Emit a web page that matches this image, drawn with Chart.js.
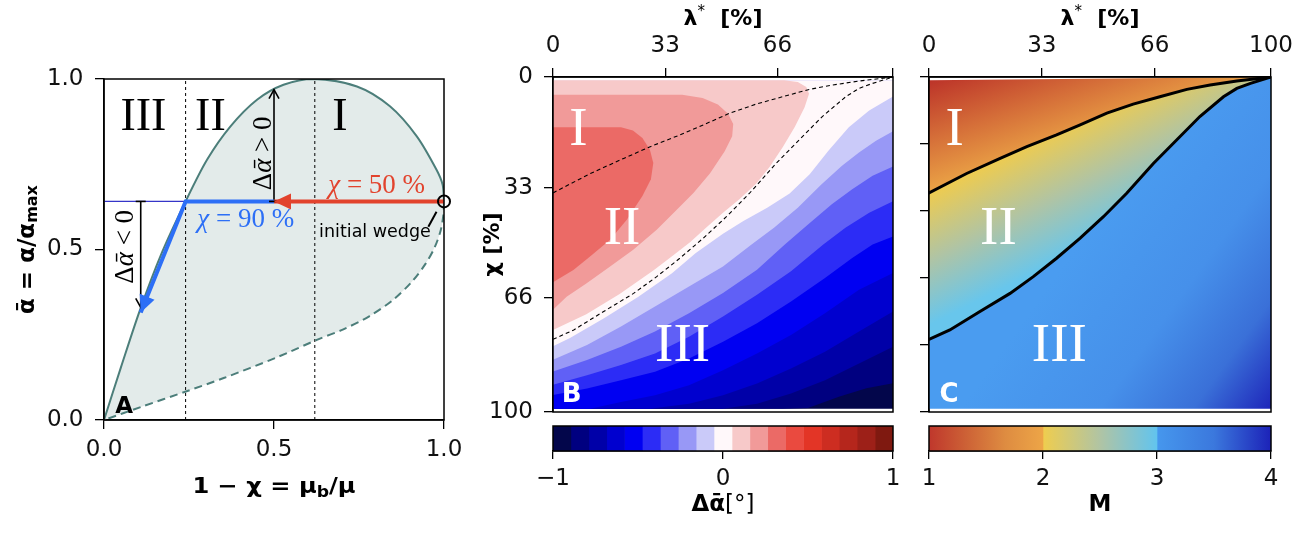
<!DOCTYPE html>
<html>
<head>
<meta charset="utf-8">
<title>Wedge regimes</title>
<script src="https://cdn.jsdelivr.net/npm/chart.js@4.4.1/dist/chart.umd.min.js"></script>
<style>
  html, body { margin: 0; padding: 0; background: #fff; }
  #fig { position: relative; width: 1314px; height: 533px; overflow: hidden; }
  #fig canvas { position: absolute; }
</style>
</head>
<body>
<div id="fig">
  <canvas id="panelA" width="475" height="533" style="left:0;top:0"></canvas>
  <canvas id="panelB" width="450" height="420" style="left:460px;top:0"></canvas>
  <canvas id="barB" width="450" height="113" style="left:460px;top:420px"></canvas>
  <canvas id="panelC" width="404" height="420" style="left:910px;top:0"></canvas>
  <canvas id="barC" width="404" height="113" style="left:910px;top:420px"></canvas>
</div>
<script>
// ── Panel A: wedge envelope, x = 1 − χ, y = ᾱ ─────────────────────────────────
const upperBranch = [[0, 0], [0.05, 0.155], [0.106, 0.323], [0.17, 0.49], [0.24, 0.641], [0.303, 0.763],
  [0.372, 0.861], [0.45, 0.939], [0.528, 0.983], [0.616, 1.0], [0.744, 0.978], [0.841, 0.92],
  [0.92, 0.832], [0.978, 0.734], [0.996, 0.69], [1.0, 0.641]]
const lowerBranch = [[1.0, 0.641], [0.998, 0.6], [0.99, 0.555], [0.972, 0.505], [0.945, 0.457],
  [0.905, 0.405], [0.85, 0.352], [0.78, 0.304], [0.704, 0.266], [0.626, 0.235], [0.509, 0.184],
  [0.352, 0.123], [0.245, 0.085], [0.108, 0.038], [0, 0]]
const regimeSplits = [0.24, 0.62]
const wedgeStart = [1.0, 0.641]
const guideLine = [[0, 0.641], [0.24, 0.641]]
const redPath = [[1.0, 0.641], [0.5, 0.641]]
const bluePath = [[0.5, 0.641], [0.24, 0.641], [0.108, 0.315]]
const riseArrow = [[0.5, 0.641], [0.5, 0.969]]
const dropArrow = [[0.108, 0.641], [0.108, 0.33]]
const wedgeLeader = [[0.978, 0.611], [0.954, 0.567]]
const ticksA = [0, 0.5, 1]

// ── Panel B: Δᾱ contour bands over (λ*, χ), both in % ─────────────────────────
const deltaLevels = [-1, -0.895, -0.789, -0.684, -0.579, -0.474, -0.368, -0.263, -0.158, -0.053,
  0.053, 0.158, 0.263, 0.368, 0.474, 0.579, 0.684, 0.789, 0.895, 1]
const deltaColors = ['#03064b', '#000080', '#0000a8', '#0000cf', '#0000f2', '#2c2cf6', '#6060f6',
  '#9898f6', '#cacaf9', '#fff8fa', '#f7c9c9', '#f19a99', '#eb6a66', '#ea4a3f', '#e33526',
  '#cd2d21', '#b5261c', '#9d2018', '#7f1910']
const dataExtent = [[0, 1], [100, 1], [100, 99], [0, 99]]
// iso-lines, left/bottom edge -> right edge
const cNeg895 = [[67.7, 99], [75, 98.8], [84.3, 95.4], [92.2, 92.9], [100, 91.4]]
const cNeg789 = [[50, 99], [60, 97.5], [70, 94.5], [80, 90.5], [90, 85.5], [100, 80.5]]
const cNeg684 = [[28.5, 99], [40, 97.5], [50, 95], [60, 91.5], [70, 87], [80, 82], [90, 76], [100, 70]]
const cNeg579 = [[10.9, 99], [20, 97], [30, 95], [40, 92], [50, 87.5], [60, 82.5], [70, 77], [80, 70.5], [90, 63.5], [100, 58.5]]
const cNeg474 = [[0, 94.9], [10, 93], [20, 90.5], [30, 88], [40, 84], [50, 79], [60, 73.5], [70, 67], [80, 60], [88, 54], [94, 50], [100, 47.6]]
const cNeg368 = [[0, 91.9], [10, 89], [20, 86], [30, 82.5], [40, 77.5], [50, 71.5], [60, 65], [70, 58], [79.4, 50.1], [86, 45], [93, 40.5], [100, 37.1]]
const cNeg263 = [[0, 87.9], [10, 84.5], [20, 80.5], [30, 76], [40, 70.5], [50, 64.5], [60, 57.5], [68.1, 50.1], [75, 44], [82, 38], [88, 33.5], [94, 29.5], [100, 26.7]]
const cNeg158 = [[0, 84.4], [10, 80], [20, 74.5], [30, 68.5], [40, 62.5], [50, 56.6], [58.3, 50.1], [65, 45], [72, 39], [79, 32], [85, 26.5], [90, 22.5], [95, 19], [100, 16.2]]
const cNeg053 = [[0, 80.4], [5, 77.9], [15, 72], [25, 65.7], [35, 58.6], [42, 52.5], [50, 46.8], [56, 43], [63, 39], [69.6, 34.8], [75.5, 29], [81, 22], [87, 15], [93, 10], [100, 5.8]]
// closed iso-lines around the positive lobe
const cPos053 = [[0, 1], [68, 1], [72, 1.5], [74.5, 3], [75.3, 5], [74, 9], [71.1, 14.9], [67.6, 20.9], [63.7, 26.9], [59.8, 31.8], [54.9, 36.4], [50, 40.5], [45, 45], [40.3, 49.3], [35, 53.5], [29.4, 57.8], [19.6, 64.8], [9.8, 70.8], [0, 75.5]]
const cPos158 = [[0, 5.3], [38, 5.3], [44, 6.3], [48.5, 8.2], [51.5, 11], [53, 14], [52.7, 17.7], [50.5, 22.2], [46.2, 28.7], [41.3, 34.6], [36.4, 39.6], [30.5, 45.6], [23.6, 51.6], [16.8, 56.6], [9.9, 61.6], [4, 65.6], [0, 69.5]]
const cPos263 = [[0, 15], [20, 15], [23.5, 16], [26.3, 18.2], [28.5, 21.7], [29.5, 25.7], [28.8, 30.5], [26.3, 35.5], [21.7, 42.6], [16.8, 48.6], [10.9, 53.6], [6, 57.6], [0, 61.3]]

// regime boundaries (dashed in B, solid in C)
const curveI_II = [[0, 34.6], [11, 28.8], [20.8, 24.3], [28.6, 20.8], [37.3, 17.3], [44.2, 14.3], [52, 10.8],
  [59.7, 8.1], [67.5, 5.9], [75.4, 3.7], [82.2, 2.4], [90, 1.2], [100, 0]]
const curveII_III = [[0, 78.3], [6.1, 75.5], [14.9, 70], [23.7, 64.6], [30.5, 59.6], [37.3, 54.1], [44.2, 48.1],
  [51, 41.7], [57.8, 34.7], [65.6, 25.8], [72.4, 18.8], [79.2, 11.8], [86.1, 5.9], [90, 3.4], [94, 1.9], [100, 0]]

const lambdaTicks = [0, 33, 66, 100]
const chiTicksB = [0, 33, 66, 100]
const chiTicksC = [0, 20, 40, 60, 80, 100]
const deltaTicks = [-1, 0, 1]

// ── Panel C: number of modes M ───────────────────────────────────────────────
const mTicks = [1, 2, 3, 4]
const mSegments = [[1, 2], [2, 3], [3, 4]]
const mRamps = [
  [[0, '#bf372c'], [0.33, '#cd6236'], [0.67, '#de8c41'], [1, '#eda547']],
  [[0, '#efcd4e'], [0.5, '#b0c4a4'], [1, '#62c4ee']],
  [[0, '#4697ed'], [0.5, '#3b78dd'], [1, '#1c22b8']]
]

// ── Helpers ──────────────────────────────────────────────────────────────────

Chart.defaults.font.family = '"DejaVu Sans", sans-serif'
Chart.defaults.color = '#111'
Chart.defaults.elements.point.radius = 0
Chart.defaults.elements.point.hitRadius = 0

const serif = sz => `${sz}px "Liberation Serif", "DejaVu Serif", serif`
const serifIt = sz => `italic ${sz}px "Liberation Serif", "DejaVu Serif", serif`
const sans = (sz, bold) => `${bold ? 'bold ' : ''}${sz}px "DejaVu Sans", sans-serif`

const P = arr => arr.map(([x, y]) => ({ x, y }))

function line(data, o = {}) {
  return Object.assign({ data: P(data), showLine: true, fill: false, borderWidth: 0,
    borderColor: 'transparent', pointRadius: 0, tension: 0 }, o)
}

function area(data, color) {
  return line(data, { fill: 'shape', backgroundColor: color })
}

// first listed = drawn first (bottom)
function stackOrder(datasets) {
  datasets.forEach((d, i) => { d.order = datasets.length - i })
  return datasets
}

function axisOpts({ min, max, ticks, label = v => String(v), size, pad, position, reverse = false, tickLen = 9 }) {
  return {
    type: 'linear', min, max, reverse, position,
    afterBuildTicks: s => { s.ticks = ticks.map(v => ({ value: v })) },
    afterFit: s => {
      if (s.isHorizontal()) s.height = size
      else s.width = size
      s.paddingLeft = s.paddingRight = s.paddingTop = s.paddingBottom = 0
    },
    ticks: { padding: pad, color: '#111', font: { size: 23 }, maxRotation: 0, autoSkip: false, callback: v => label(v) },
    grid: { drawOnChartArea: false, drawTicks: true, tickLength: tickLen, color: '#000', lineWidth: 1.3 },
    border: { display: true, color: '#000', width: 1.5 }
  }
}

function drawRich(ctx, x, y, item) {
  const { parts, align = 'center', rotate = 0, color = '#000', sx = 1, dy = 0 } = item
  ctx.save()
  ctx.translate(x, y)
  if (rotate) ctx.rotate(rotate * Math.PI / 180)
  ctx.scale(sx, 1)
  ctx.textBaseline = 'alphabetic'
  ctx.textAlign = 'left'
  const widths = parts.map(p => { ctx.font = p.f; return ctx.measureText(p.t).width })
  const total = widths.reduce((a, b) => a + b, 0)
  let cx = align === 'left' ? 0 : align === 'right' ? -total : -total / 2
  parts.forEach((p, i) => {
    ctx.font = p.f
    ctx.fillStyle = p.c || color
    ctx.fillText(p.t, cx, dy + (p.dy || 0))
    cx += widths[i]
  })
  ctx.restore()
}

const framePlugin = {
  id: 'frame',
  afterDatasetsDraw(chart) {
    const { ctx, chartArea: a } = chart
    ctx.save()
    ctx.strokeStyle = '#000'
    ctx.lineWidth = 1.5
    ctx.strokeRect(a.left, a.top, a.right - a.left, a.bottom - a.top)
    ctx.restore()
  }
}

function labelPlugin(id, items, titles) {
  return {
    id,
    afterDraw(chart) {
      const { ctx, scales } = chart
      for (const it of items) {
        drawRich(ctx, scales.x.getPixelForValue(it.at[0]), scales.y.getPixelForValue(it.at[1]), it)
      }
      if (titles) titles(chart)
    }
  }
}

function linGrad(chart, from, to, stops) {
  const { x, y } = chart.scales
  const g = chart.ctx.createLinearGradient(x.getPixelForValue(from[0]), y.getPixelForValue(from[1]),
    x.getPixelForValue(to[0]), y.getPixelForValue(to[1]))
  stops.forEach(([o, c]) => g.addColorStop(o, c))
  return g
}

const baseOptions = {
  responsive: false, animation: false, events: [],
  plugins: { legend: { display: false }, tooltip: { enabled: false } }
}

// ── Panel A ──────────────────────────────────────────────────────────────────

const teal = '#4c7e7a'
const red = '#e2432d'
const blue = '#2d6ff6'

const arrowHeads = [
  { path: dropArrow, color: '#000', len: 9, half: 5, filled: false, bar: true },
  { path: riseArrow, color: '#000', len: 9, half: 5, filled: false, bar: true },
  { path: redPath, color: red, len: 17, half: 8, filled: true },
  { path: bluePath, color: blue, len: 17, half: 8, filled: true }
]

const headsPlugin = {
  id: 'heads',
  afterDatasetsDraw(chart) {
    const { ctx, scales: { x, y } } = chart
    for (const h of arrowHeads) {
      const n = h.path.length
      const [ax, ay] = h.path[n - 2]
      const [bx, by] = h.path[n - 1]
      const x0 = x.getPixelForValue(ax), y0 = y.getPixelForValue(ay)
      const x1 = x.getPixelForValue(bx), y1 = y.getPixelForValue(by)
      const ang = Math.atan2(y1 - y0, x1 - x0)
      ctx.save()
      ctx.strokeStyle = h.color
      ctx.fillStyle = h.color
      ctx.lineWidth = 1.6
      if (h.bar) {
        const [sx, sy] = h.path[0]
        ctx.save()
        ctx.translate(x.getPixelForValue(sx), y.getPixelForValue(sy))
        ctx.rotate(ang)
        ctx.beginPath(); ctx.moveTo(0, -5); ctx.lineTo(0, 5); ctx.stroke()
        ctx.restore()
      }
      ctx.translate(x1, y1)
      ctx.rotate(ang)
      ctx.beginPath()
      ctx.moveTo(-h.len, -h.half)
      ctx.lineTo(0, 0)
      ctx.lineTo(-h.len, h.half)
      if (h.filled) { ctx.closePath(); ctx.fill() } else ctx.stroke()
      ctx.restore()
    }
  }
}

const textsA = [
  { at: [0.116, 0.894], dy: 15, parts: [{ t: 'III', f: serif(46) }] },
  { at: [0.313, 0.894], dy: 15, parts: [{ t: 'II', f: serif(46) }] },
  { at: [0.694, 0.894], dy: 15, parts: [{ t: 'I', f: serif(46) }] },
  { at: [0.491, 0.782], rotate: -90, parts: [{ t: 'Δ', f: serif(27) }, { t: 'ᾱ', f: serifIt(27) }, { t: ' > 0', f: serif(27) }] },
  { at: [0.085, 0.508], rotate: -90, parts: [{ t: 'Δ', f: serif(27) }, { t: 'ᾱ', f: serifIt(27) }, { t: ' < 0', f: serif(27) }] },
  { at: [0.802, 0.665], color: red, parts: [{ t: 'χ', f: serifIt(27) }, { t: ' = 50 %', f: serif(27) }] },
  { at: [0.417, 0.567], color: blue, parts: [{ t: 'χ', f: serifIt(27) }, { t: ' = 90 %', f: serif(27) }] },
  { at: [0.797, 0.537], parts: [{ t: 'initial wedge', f: sans(17.5) }] },
  { at: [0.059, 0.044], dy: 8.5, parts: [{ t: 'A', f: sans(23, true) }] }
]

function titlesA(chart) {
  const { ctx, chartArea: a } = chart
  drawRich(ctx, (a.left + a.right) / 2, a.bottom + 73, { sx: 1.15, parts: [
    { t: '1 − χ = μ', f: sans(21, true) }, { t: 'b', f: sans(15, true), dy: 4 }, { t: '/μ', f: sans(21, true) }] })
  drawRich(ctx, 34, (a.top + a.bottom) / 2, { rotate: -90, parts: [
    { t: 'ᾱ = α/α', f: sans(23, true) }, { t: 'max', f: sans(16, true), dy: 3 }] })
}

const teardrop = [...upperBranch, ...lowerBranch.slice(1, -1)]

new Chart(document.getElementById('panelA'), {
  type: 'scatter',
  data: {
    datasets: stackOrder([
      line(teardrop, { fill: 'shape', backgroundColor: '#e3ebea', tension: 0.3 }),
      ...regimeSplits.map(v => line([[v, 0], [v, 1]], { borderColor: '#000', borderWidth: 1, borderDash: [3, 3] })),
      line(guideLine, { borderColor: '#3535c8', borderWidth: 1.2 }),
      line(upperBranch, { borderColor: teal, borderWidth: 2, tension: 0.3 }),
      line(lowerBranch, { borderColor: teal, borderWidth: 2, borderDash: [8, 5], tension: 0.3 }),
      line(riseArrow, { borderColor: '#000', borderWidth: 1.6 }),
      line(dropArrow, { borderColor: '#000', borderWidth: 1.6 }),
      line(redPath, { borderColor: red, borderWidth: 4 }),
      line(bluePath, { borderColor: blue, borderWidth: 4, borderJoinStyle: 'miter' }),
      line(wedgeLeader, { borderColor: '#000', borderWidth: 2 }),
      line([wedgeStart], { showLine: false, pointRadius: 6, pointBorderWidth: 2, pointBorderColor: '#000',
        pointBackgroundColor: 'rgba(0,0,0,0)', clip: false })
    ])
  },
  options: {
    ...baseOptions,
    layout: { padding: { left: 0, right: 31, top: 79, bottom: 0 } },
    scales: {
      x: axisOpts({ min: 0, max: 1, ticks: ticksA, label: v => v.toFixed(1), size: 113, pad: 7 }),
      y: axisOpts({ min: 0, max: 1, ticks: ticksA, label: v => v.toFixed(1), size: 104, pad: 11.5 })
    }
  },
  plugins: [framePlugin, headsPlugin, labelPlugin('labelsA', textsA, titlesA)]
})

// ── Panel B ──────────────────────────────────────────────────────────────────

const negEdges = [cNeg895, cNeg789, cNeg684, cNeg579, cNeg474, cNeg368, cNeg263, cNeg158, cNeg053]
const posEdges = [cPos053, cPos158, cPos263]
const aboveEdge = edge => [[0, 1], [0, 99], ...edge, [100, 1]]

function lambdaTitle(chart) {
  const { ctx, chartArea: a } = chart
  drawRich(ctx, (a.left + a.right) / 2, 25, { parts: [
    { t: 'λ', f: sans(22, true) }, { t: '*', f: sans(15), dy: -9 }, { t: '  [%]', f: sans(22, true) }] })
}

const regionTexts = [
  { at: [7.5, 14.8], dy: 18, color: '#fff', parts: [{ t: 'I', f: serif(55) }] },
  { at: [20.3, 44.6], dy: 18, color: '#fff', parts: [{ t: 'II', f: serif(55) }] },
  { at: [38.1, 79.4], dy: 18, color: '#fff', parts: [{ t: 'III', f: serif(55) }] }
]

new Chart(document.getElementById('panelB'), {
  type: 'scatter',
  data: {
    datasets: stackOrder([
      area(dataExtent, deltaColors[0]),
      ...negEdges.map((e, i) => area(aboveEdge(e), deltaColors[i + 1])),
      ...posEdges.map((e, i) => area(e, deltaColors[10 + i])),
      line(curveI_II, { borderColor: '#000', borderWidth: 1.1, borderDash: [4, 3] }),
      line(curveII_III, { borderColor: '#000', borderWidth: 1.1, borderDash: [4, 3] })
    ])
  },
  options: {
    ...baseOptions,
    layout: { padding: { left: 0, right: 17, top: 0, bottom: 8 } },
    scales: {
      x: axisOpts({ min: 0, max: 100, position: 'top', ticks: lambdaTicks, label: v => v === 100 ? '' : String(v), size: 77, pad: 8 }),
      y: axisOpts({ min: 0, max: 100, reverse: true, ticks: chiTicksB, size: 93, pad: 11 })
    }
  },
  plugins: [framePlugin, labelPlugin('labelsB', [...regionTexts,
    { at: [5.5, 94.2], dy: 9.5, color: '#fff', parts: [{ t: 'B', f: sans(26, true) }] }], chart => {
    lambdaTitle(chart)
    const a = chart.chartArea
    drawRich(chart.ctx, 39, (a.top + a.bottom) / 2, { rotate: -90, parts: [{ t: 'χ [%]', f: sans(22, true) }] })
  })]
})

// ── Panel C ──────────────────────────────────────────────────────────────────

const regionI = [[0, 1], ...[...curveI_II].reverse()]
const regionII = [...curveI_II, ...[...curveII_III].reverse()]
const regionIII = [...curveII_III, [100, 99], [0, 99]]

const gradFill = (from, to, stops) => c => c.chart.chartArea ? linGrad(c.chart, from, to, stops) : stops[0][1]

new Chart(document.getElementById('panelC'), {
  type: 'scatter',
  data: {
    datasets: stackOrder([
      line(regionIII, { fill: 'shape', backgroundColor: gradFill([40, 55], [100, 99],
        [[0, '#4a9cf0'], [0.45, '#4690ea'], [0.75, '#3a70d8'], [1, '#1e26ba']]) }),
      line(regionII, { fill: 'shape', backgroundColor: gradFill([0, 35.3], [15.2, 66.4],
        [[0, '#eccb52'], [0.5, '#b0c4a4'], [1, '#68c6ec']]) }),
      line(regionI, { fill: 'shape', backgroundColor: gradFill([0, 1], [10, 31.3],
        [[0, '#bc3329'], [0.5, '#d46c38'], [1, '#eba446']]) }),
      line(curveI_II, { borderColor: '#000', borderWidth: 3, borderCapStyle: 'round' }),
      line(curveII_III, { borderColor: '#000', borderWidth: 3, borderCapStyle: 'round' })
    ])
  },
  options: {
    ...baseOptions,
    layout: { padding: { left: 0, right: 43, top: 0, bottom: 8 } },
    scales: {
      x: axisOpts({ min: 0, max: 100, position: 'top', ticks: lambdaTicks, size: 77, pad: 8 }),
      y: axisOpts({ min: 0, max: 100, reverse: true, ticks: chiTicksC, label: () => '', size: 19, pad: 0 })
    }
  },
  plugins: [framePlugin, labelPlugin('labelsC', [...regionTexts,
    { at: [5.85, 94.2], dy: 9.5, color: '#fff', parts: [{ t: 'C', f: sans(26, true) }] }], lambdaTitle)]
})

// ── Colour bars ──────────────────────────────────────────────────────────────

function colorbar(id, datasets, min, max, ticks, label, padding, title) {
  new Chart(document.getElementById(id), {
    type: 'bar',
    data: { labels: [''], datasets },
    options: {
      ...baseOptions,
      indexAxis: 'y',
      layout: { padding },
      scales: {
        x: axisOpts({ min, max, ticks, label, size: 82, pad: 6, tickLen: 8 }),
        y: { display: false }
      }
    },
    plugins: [framePlugin, { id: id + 'Title', afterDraw(chart) {
      const a = chart.chartArea
      drawRich(chart.ctx, (a.left + a.right) / 2, 91, { parts: title })
    } }]
  })
}

const cell = (range, color) => ({ data: [range], backgroundColor: color, borderWidth: 0,
  barPercentage: 1, categoryPercentage: 1, grouped: false })

colorbar('barB',
  deltaColors.map((c, i) => cell([deltaLevels[i], deltaLevels[i + 1]], c)),
  -1, 1, deltaTicks, v => v < 0 ? '−' + Math.abs(v) : String(v),
  { left: 93, right: 17, top: 6, bottom: 0 },
  [{ t: 'Δᾱ', f: sans(23, true) }, { t: '[°]', f: sans(23) }])

colorbar('barC',
  mSegments.map((seg, i) => cell(seg, c => {
    const x = c.chart.scales.x
    if (!c.chart.chartArea || !x) return mRamps[i][0][1]
    const g = c.chart.ctx.createLinearGradient(x.getPixelForValue(seg[0]), 0, x.getPixelForValue(seg[1]), 0)
    mRamps[i].forEach(([o, col]) => g.addColorStop(o, col))
    return g
  })),
  1, 4, mTicks, v => String(v),
  { left: 19, right: 43, top: 6, bottom: 0 },
  [{ t: 'M', f: sans(23, true) }])
</script>
</body>
</html>
